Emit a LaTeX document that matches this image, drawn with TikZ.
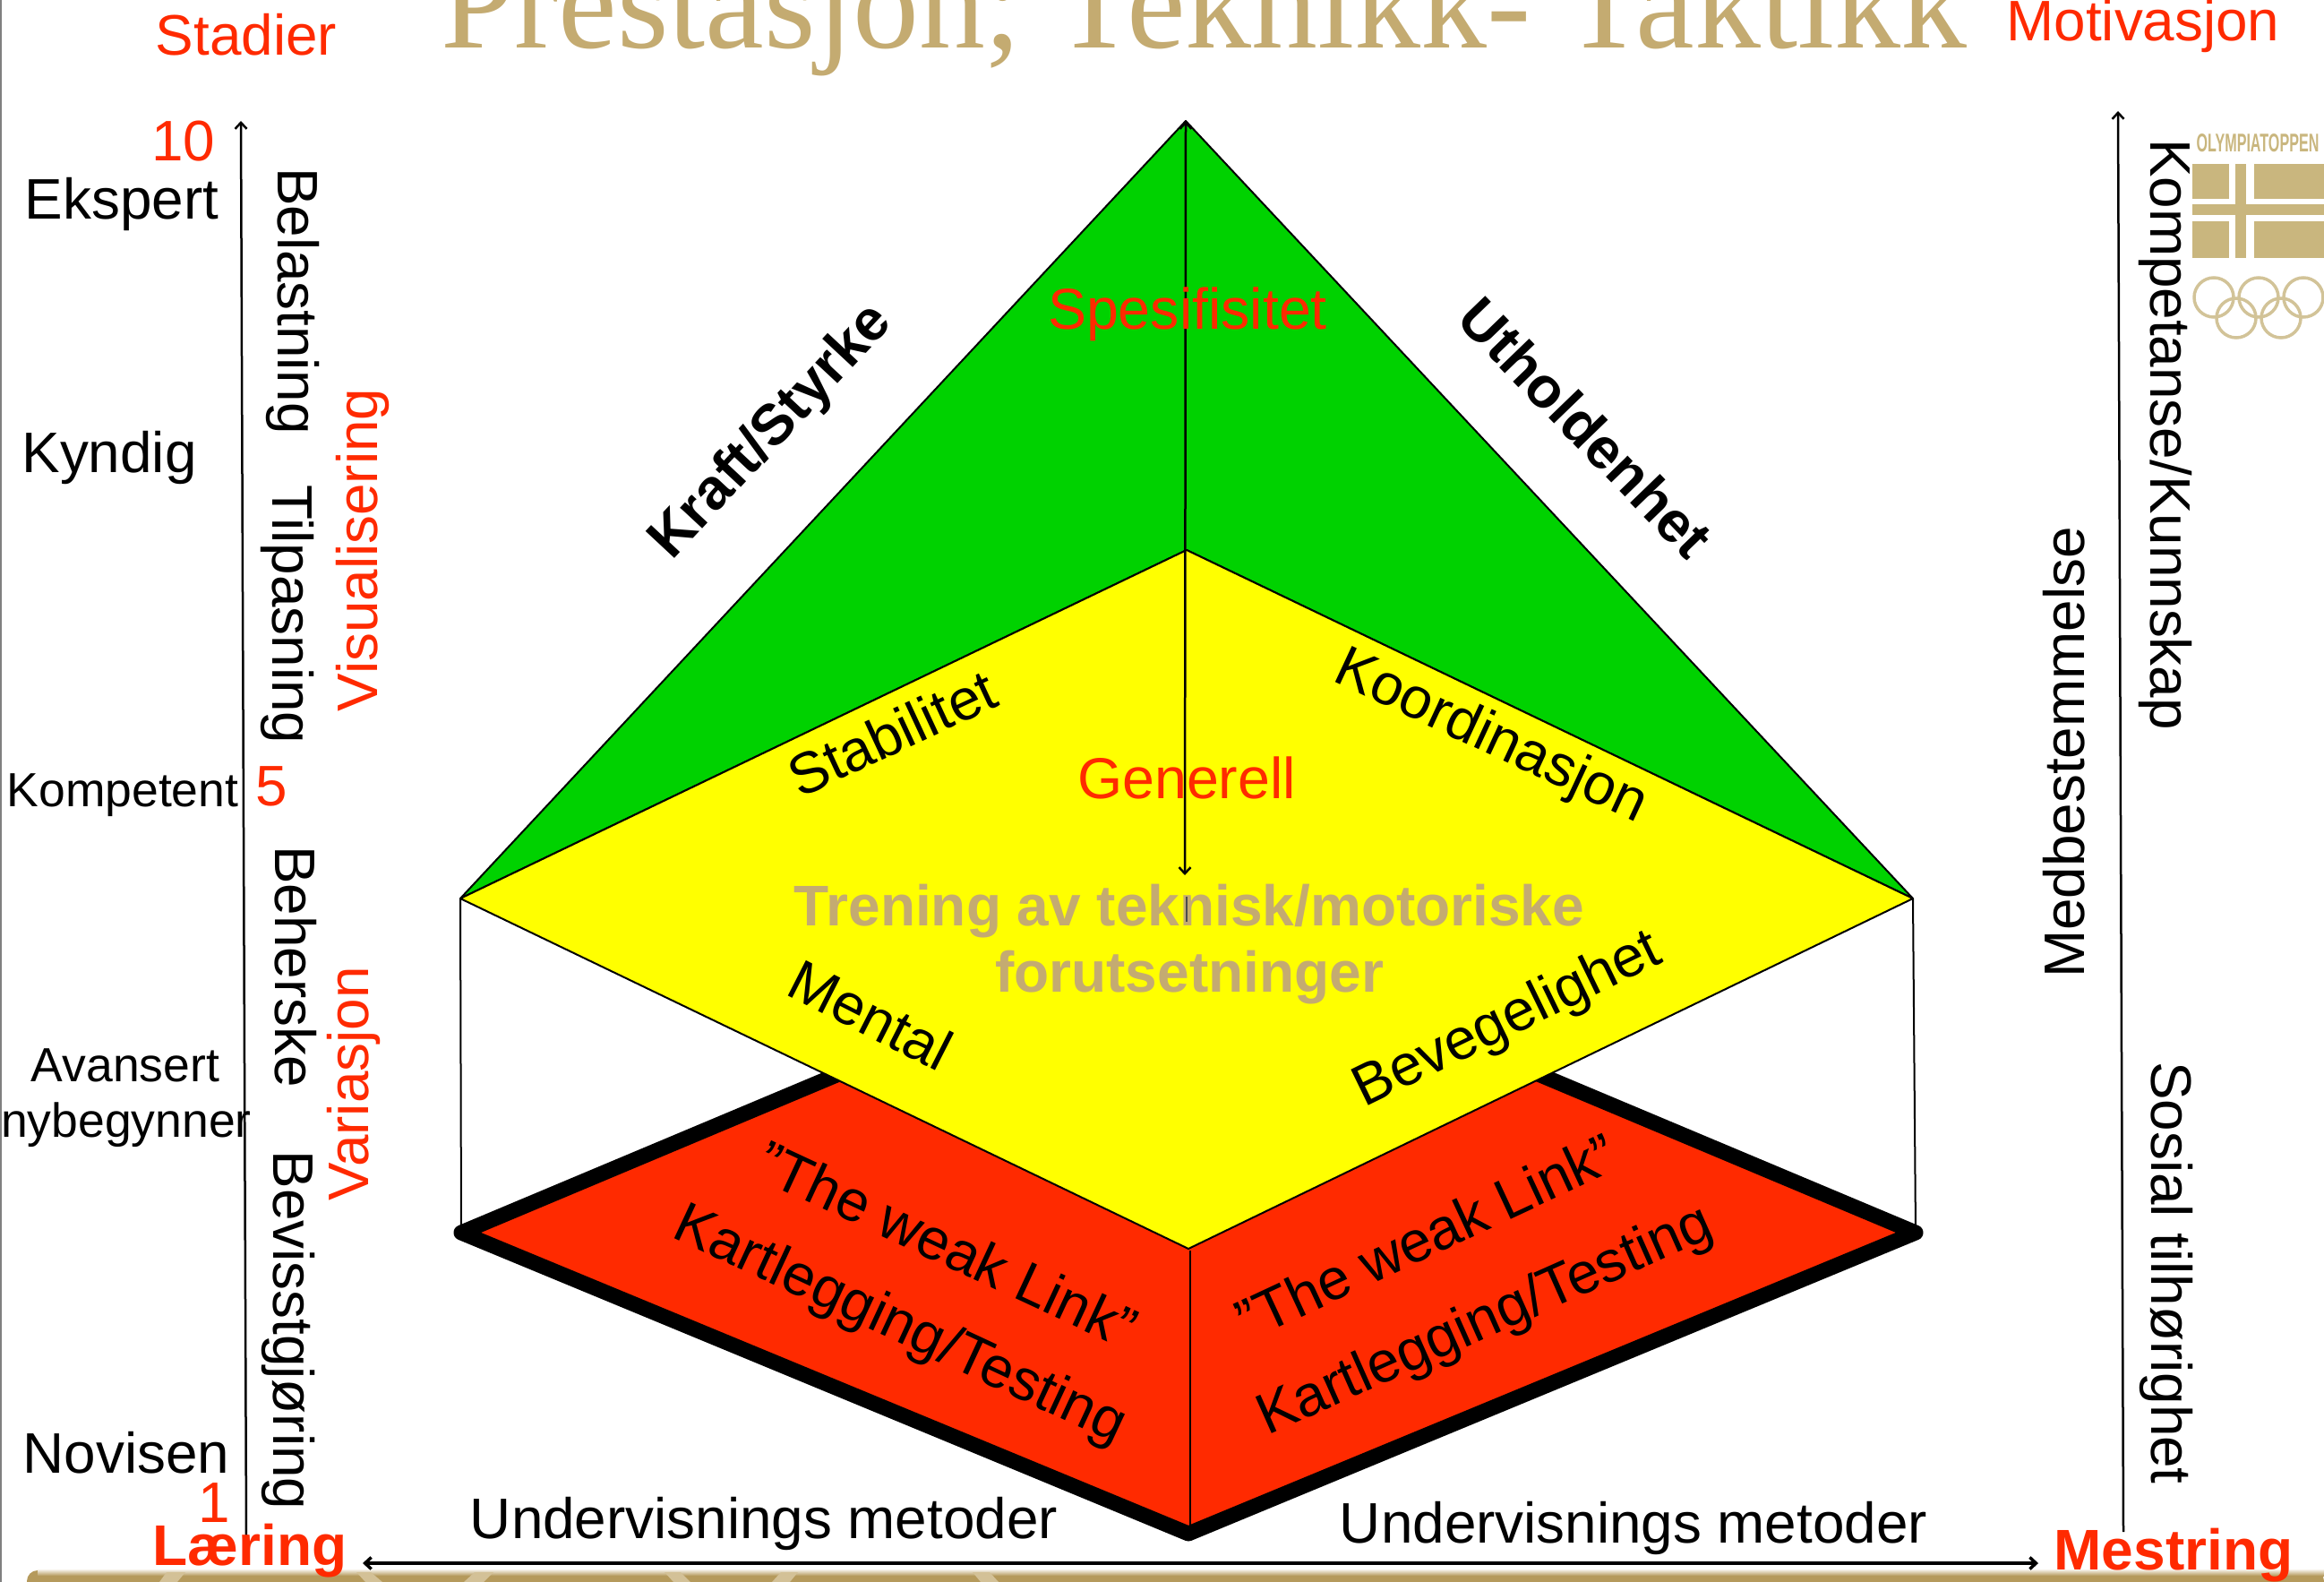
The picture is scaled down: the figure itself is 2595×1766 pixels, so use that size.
\documentclass[tikz,border=0pt]{standalone}
\usepackage{fontspec}
\usetikzlibrary{arrows.meta}
\setmainfont{Liberation Sans}
\newfontfamily\titlefont{Liberation Serif}
\definecolor{plainred}{HTML}{FF2A00}
\definecolor{plainyellow}{HTML}{FFFF00}
\definecolor{plaingreen}{HTML}{00D200}
\definecolor{gold}{HTML}{C4AB71}
\definecolor{band}{HTML}{B59A5C}
\definecolor{streak}{HTML}{D3C197}
\definecolor{logogold}{HTML}{C9B67E}
\definecolor{ringgold}{HTML}{D2C398}

\begin{document}
\begin{tikzpicture}
[
  x=1pt,
  y=-1pt,
  >={Straight Barb[length=7pt,width=13pt]},
  word/.style = {anchor=base, inner sep=0pt, font=\fontsize{63.8}{70}\selectfont},
  smallword/.style = {word, font=\fontsize{53.5}{62}\selectfont},
  redword/.style = {word, text=plainred},
  boldword/.style = {word, font=\bfseries\fontsize{64}{70}\selectfont},
  boldred/.style = {boldword, text=plainred},
  slanted/.style = {anchor=center, inner sep=0pt, font=\fontsize{64.5}{70}\selectfont},
  thinline/.style = {line width=2pt},
  ring/.style = {draw=ringgold, line width=3.5pt},
]

\useasboundingbox (0,0) rectangle (2595,1766);
\clip (0,0) rectangle (2595,1766);

\coordinate (apex) at (1324,135);
\coordinate (yleft) at (514,1003);
\coordinate (yright) at (2136,1003);
\coordinate (ytop) at (1325,614);
\coordinate (ybottom) at (1327,1394);
\coordinate (rleft) at (515,1376);
\coordinate (rright) at (2139,1376);
\coordinate (rtop) at (1327,1035);
\coordinate (rbottom) at (1327,1712);
\coordinate (rinner) at (1329,1704);
\coordinate (yinner) at (1329,1396);
\coordinate (arrowend) at (1323,977);
\coordinate (stubtop) at (1325,1001);
\coordinate (stubend) at (1325,1029);
\coordinate (lefttop) at (269,135);
\coordinate (leftend) at (275,1714);
\coordinate (righttop) at (2365,124);
\coordinate (rightend) at (2371,1710);
\coordinate (floorleft) at (405,1745);
\coordinate (floorright) at (2276,1745);
\coordinate (edgetop) at (1,0);
\coordinate (edgeend) at (1,1766);

\draw [gray, line width=2pt] (edgetop) -- (edgeend);

\fill [band, rounded corners=12pt] (30,1753) -- (2595,1753) -- (2595,1790) -- (30,1790) -- cycle;
\shade [top color=white, bottom color=band] (42,1751) rectangle (2595,1759);
\fill [streak] (186,1755) -- (207,1755) -- (198,1766) -- (178,1766) -- cycle;
\fill [streak] (398,1755) -- (414,1755) -- (427,1766) -- (408,1766) -- cycle;
\fill [streak] (530,1755) -- (551,1755) -- (540,1766) -- (518,1766) -- cycle;
\fill [streak] (742,1755) -- (760,1755) -- (771,1766) -- (752,1766) -- cycle;
\fill [streak] (872,1755) -- (891,1755) -- (882,1766) -- (862,1766) -- cycle;
\fill [streak] (1086,1755) -- (1105,1755) -- (1115,1766) -- (1095,1766) -- cycle;

\node (title) at (1344,54) [anchor=base, inner sep=0pt, text=gold, font=\titlefont\fontsize{147.8}{160}\selectfont] {Prestasjon; Teknikk- Taktikk};

\draw [fill=plainred, draw=black, line width=17pt, line join=round] (rleft) -- (rtop) -- (rright) -- (rbottom) -- cycle;
\draw [thinline] (yinner) -- (rinner);
\draw [thinline] (yleft) -- (rleft);
\draw [thinline] (yright) -- (rright);
\draw [fill=plaingreen, thinline, line join=round] (apex) -- (yleft) -- (ytop) -- (yright) -- cycle;
\draw [fill=plainyellow, thinline, line join=round] (ytop) -- (yleft) -- (ybottom) -- (yright) -- cycle;

\draw [<->, line width=2.5pt] (apex) -- (arrowend);
\draw [->, line width=2.5pt] (leftend) -- (lefttop);
\draw [->, line width=2.5pt] (rightend) -- (righttop);
\draw [<->, line width=3.5pt] (floorleft) -- (floorright);

\node (stadier) at (275,62) [redword] {Stadier};
\node (motivasjon) at (2393,46) [redword] {Motivasjon};
\node (ten) at (205,179) [redword] {10};
\node (five) at (303,899) [redword] {5};
\node (one) at (239,1699) [redword] {1};
\node (ekspert) at (136,244) [word] {Ekspert};
\node (kyndig) at (122,527) [word] {Kyndig};
\node (kompetent) at (137,900) [smallword] {Kompetent};
\node (avansert) at (140,1207) [smallword] {Avansert};
\node (nybegynner) at (141,1269) [smallword] {nybegynner};
\node (novisen) at (141,1644) [word] {Novisen};
\node (laering) at (279,1747) [boldred] {Læring};
\node (mestring) at (2427,1752) [boldred] {Mestring};

\node (belastning) at (310,336) [word, rotate=-90] {Belastning};
\node (tilpasning) at (304,686) [word, rotate=-90] {Tilpasning};
\node (beherske) at (307,1079) [word, rotate=-90] {Beherske};
\node (bevisst) at (305,1485) [word, rotate=-90] {Bevisstgjøring};
\node (visual) at (421,614) [redword, rotate=90] {Visualisering};
\node (variasjon) at (411,1210) [redword, rotate=90] {Variasjon};
\node (kompetanse) at (2401,485) [word, rotate=-90] {Kompetanse/Kunnskap};
\node (medbest) at (2327,840) [word, rotate=90] {Medbestemmelse};
\node (sosial) at (2402,1421) [word, rotate=-90] {Sosial tilhørighet};

\node (kraft) at (862,483) [boldword, anchor=center, rotate=47] {Kraft/Styrke};
\node (uthold) at (1771,477) [boldword, anchor=center, rotate=-46] {Utholdenhet};
\node (spes) at (1326,351) [slanted, text=plainred] {Spesifisitet};
\node (generell) at (1325,868) [slanted, text=plainred] {Generell};
\node (stabil) at (996,818) [slanted, rotate=25] {Stabilitet};
\node (koord) at (1664,824) [slanted, rotate=-25] {Koordinasjon};
\node (mental) at (972,1133) [slanted, rotate=-27] {Mental};
\node (bevege) at (1684,1140) [slanted, rotate=26] {Bevegelighet};

\node (trening) at (1328,1054) [anchor=center, inner sep=0pt, align=center, text=gold, font=\bfseries\fontsize{64}{74}\selectfont] {Trening av teknisk/motoriske\\forutsetninger};
\draw [line width=2pt, black!70] (stubtop) -- (stubend);

\node (linkl) at (1058,1389) [slanted, rotate=-25] {”The weak Link”};
\node (kartl) at (1004,1481) [slanted, rotate=-25] {Kartlegging/Testing};
\node (linkr) at (1592,1380) [slanted, rotate=25] {”The weak Link”};
\node (kartr) at (1659,1476) [slanted, rotate=24] {Kartlegging/Testing};

\node (metodl) at (853,1717) [word] {Undervisnings metoder};
\node (metodr) at (1824,1722) [word] {Undervisnings metoder};

\node (olympia) at (2521,160) [anchor=center, inner sep=0pt, text=logogold, xscale=0.62, yscale=1.1, font=\bfseries\fontsize{26}{28}\selectfont] {OLYMPIATOPPEN};
\fill [logogold] (2448,183) rectangle (2489,222);
\fill [logogold] (2517,183) rectangle (2595,222);
\fill [logogold] (2448,247) rectangle (2489,288);
\fill [logogold] (2517,247) rectangle (2595,288);
\fill [logogold] (2496,183) rectangle (2508,288);
\fill [logogold] (2448,228) rectangle (2595,240);
\draw [ring] (2472,332) circle (22);
\draw [ring] (2522,332) circle (22);
\draw [ring] (2572,332) circle (22);
\draw [ring] (2497,355) circle (22);
\draw [ring] (2547,355) circle (22);

\end{tikzpicture}
\end{document}
